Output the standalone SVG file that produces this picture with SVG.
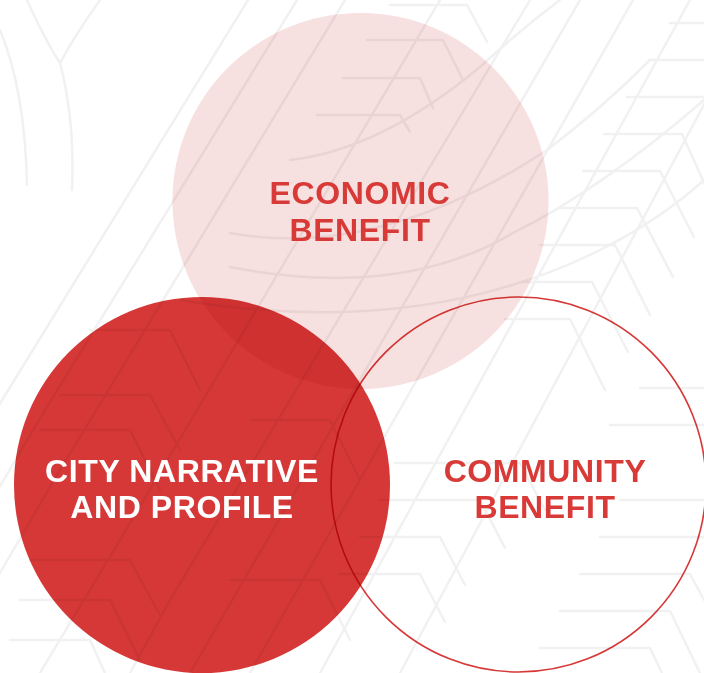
<svg xmlns="http://www.w3.org/2000/svg" width="704" height="673" viewBox="0 0 704 673">
  <style>
    .bg { fill: none; stroke: #f1f1f1; stroke-width: 2.5; stroke-linejoin: round; stroke-linecap: round; }
    .blend { mix-blend-mode: multiply; }
    .lbl { font-family: "Liberation Sans", Arial, sans-serif; font-weight: bold; font-size: 32px; text-anchor: middle; letter-spacing: 0.6px; }
    .red { fill: #d83a37; }
    .white { fill: #ffffff; }
  </style>
  <rect x="0" y="0" width="704" height="673" fill="#ffffff"/>

  <g id="background-pattern" class="bg">
    <!-- long down-left diagonals -->
    <path d="M248,0 L-4,410"/>
    <path d="M297,0 L45,410 L-20,520"/>
    <path d="M345,0 L60,470 L-10,590"/>
    <path d="M440,0 L120,540 L40,673"/>
    <path d="M530,0 L170,600 L130,673"/>
    <path d="M580,0 L190,673"/>
    <path d="M633,0 L250,673"/>
    <path d="M690,0 L320,673"/>
    <path d="M760,0 L400,673"/>
    <!-- top-left curves -->
    <path d="M27,0 Q45,40 60,63 Q75,120 72,190"/>
    <path d="M100,0 Q75,35 60,63"/>
    <path d="M0,30 Q25,90 27,185"/>
    <!-- right chevron stack -->
    <path d="M670,23 H710"/>
    <path d="M649,60 H710"/>
    <path d="M627,97 H710"/>
    <path d="M604,134 H682 L712,200"/>
    <path d="M583,171 H660 L694,237"/>
    <path d="M560,208 H637 L673,277"/>
    <path d="M540,245 H615 L650,315"/>
    <path d="M520,282 H592 L628,352"/>
    <path d="M505,319 H570 L605,390"/>
    <path d="M640,388 H704"/>
    <path d="M610,425 H704"/>
    <!-- econ chevron stack -->
    <path d="M390,5 H467 L487,42"/>
    <path d="M367,40 H443 L463,80"/>
    <path d="M343,78 H420 L433,108"/>
    <path d="M317,115 H400 L410,132"/>
    <!-- arcs -->
    <path d="M290,160 Q380,150 480,67 Q520,30 560,0"/>
    <path d="M230,233 Q380,260 547,150 Q600,110 650,60"/>
    <path d="M230,267 Q400,300 513,233 Q600,190 704,100"/>
    <path d="M180,300 Q420,340 600,250 Q660,220 704,180"/>
    <!-- lower chevrons -->
    <path d="M395,463 H520 L545,510"/>
    <path d="M380,500 H480 L505,548"/>
    <path d="M360,537 H440 L465,585"/>
    <path d="M340,574 H420 L445,622"/>
    <path d="M620,500 H704"/>
    <path d="M600,537 H704"/>
    <path d="M580,574 H690 L704,600"/>
    <path d="M560,611 H670 L700,673"/>
    <path d="M540,648 H650 L662,673"/>
    <!-- city area chevrons -->
    <path d="M60,395 H150 L180,450"/>
    <path d="M40,430 H130 L160,490"/>
    <path d="M30,560 H130 L160,615"/>
    <path d="M20,600 H110 L140,660"/>
    <path d="M10,640 H90 L105,673"/>
    <path d="M90,330 H170 L200,390"/>
    <path d="M250,420 H330 L360,480"/>
    <path d="M230,580 H320 L350,640"/>
  </g>

  <g id="node-economic">
    <circle class="blend" cx="360.5" cy="201" r="188" fill="#f7e0e0"/>
    <text class="lbl red" x="360" y="204">ECONOMIC</text>
    <text class="lbl red" x="360" y="241">BENEFIT</text>
  </g>

  <g id="node-city">
    <circle class="blend" cx="202" cy="485" r="188" fill="#d63837"/>
    <text class="lbl white" x="182" y="482">CITY NARRATIVE</text>
    <text class="lbl white" x="182" y="518">AND PROFILE</text>
  </g>

  <g id="node-community">
    <circle class="blend" cx="518.5" cy="484.5" r="187.5" fill="none" stroke="#d63837" stroke-width="1.6"/>
    <text class="lbl red" x="545" y="482">COMMUNITY</text>
    <text class="lbl red" x="545" y="518">BENEFIT</text>
  </g>

  <g id="connectors"/>
</svg>
